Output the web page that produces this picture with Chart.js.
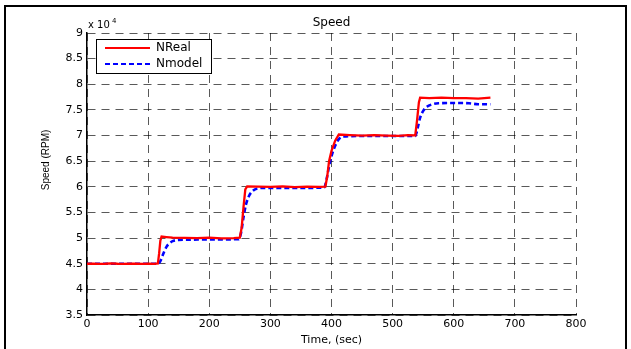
<!DOCTYPE html>
<html>
<head>
<meta charset="utf-8">
<script src="https://cdn.jsdelivr.net/npm/chart.js@4.4.1/dist/chart.umd.min.js"></script>
<style>
  html, body { margin: 0; padding: 0; background: #fff; }
  #wrap { width: 631px; height: 349px; position: relative; }
</style>
</head>
<body>
<div id="wrap"><canvas id="speed-chart"></canvas></div>
<script>
// Measured speed (NReal)
const realTime = [
  0, 10, 20, 30, 40, 50, 60, 70, 80, 90, 100, 110, 116, 118, 120, 122,
  130, 140, 160, 180, 200, 220, 240, 250, 253, 256, 259, 262,
  280, 300, 320, 340, 360, 380, 390, 393, 396, 400, 406, 412,
  430, 450, 470, 490, 510, 525, 537, 540, 543, 545,
  560, 580, 600, 620, 640, 650, 660,
];
const realRpm = [
  45000, 45020, 44980, 45000, 45050, 45000, 44990, 45020, 45000, 44980, 45000, 44990, 45050, 47000, 49500, 50300,
  50200, 50100, 50050, 50000, 50100, 49950, 50000, 50100, 52000, 56000, 59500, 60100,
  60050, 60000, 60100, 59950, 60050, 60000, 60050, 62000, 65000, 67000, 69000, 70200,
  70100, 70000, 70100, 70000, 69950, 70100, 70050, 73000, 76500, 77400,
  77300, 77400, 77300, 77300, 77200, 77300, 77400,
];

// Model speed (Nmodel)
const modelTime = [
  0, 50, 100, 116, 120, 125, 130, 135, 140, 150, 170, 200, 230, 248,
  252, 256, 260, 265, 272, 280, 290, 320, 360, 388,
  392, 396, 400, 406, 412, 420, 450, 490, 537,
  541, 545, 550, 556, 565, 575, 600, 625, 640, 660,
];
const modelRpm = [
  45000, 45000, 45000, 45000, 45500, 47000, 48300, 49000, 49400, 49650, 49700, 49750, 49750, 49800,
  51000, 54000, 56500, 58200, 59300, 59700, 59800, 59800, 59800, 59850,
  61500, 64000, 66000, 68000, 69300, 69800, 69900, 69900, 69900,
  71500, 73500, 74800, 75600, 76100, 76300, 76350, 76300, 76100, 76100,
];

const xMin = 0, xMax = 800, xStep = 100;
const yMin = 35000, yMax = 90000, yStep = 5000;

const toPoints = (xs, ys) => xs.map((x, i) => ({ x, y: ys[i] }));

// Frame, title, axis labels and legend drawn like the MATLAB figure
const figureDecor = {
  id: 'figureDecor',
  afterDraw(chart) {
    const { ctx, chartArea } = chart;
    const cx = (chartArea.left + chartArea.right) / 2;
    ctx.save();
    ctx.strokeStyle = '#000';
    ctx.lineWidth = 2;
    ctx.strokeRect(5, 6, 621, 360);

    ctx.fillStyle = '#000';
    ctx.textAlign = 'center';
    ctx.textBaseline = 'alphabetic';
    ctx.font = '12px "DejaVu Sans"';
    ctx.fillText('Speed', cx, 26);
    ctx.font = '11px "DejaVu Sans"';
    ctx.fillText('Time, (sec)', cx, 343);

    ctx.textAlign = 'left';
    ctx.font = '10px "DejaVu Sans"';
    ctx.fillText('x 10', 88, 28);
    ctx.font = '7px "DejaVu Sans"';
    ctx.fillText('4', 112, 23);

    ctx.save();
    ctx.translate(46, 160);
    ctx.rotate(-Math.PI / 2);
    ctx.textAlign = 'center';
    ctx.textBaseline = 'middle';
    ctx.font = '10px "Liberation Sans"';
    ctx.fillText('Speed (RPM)', 0, 0);
    ctx.restore();

    // legend
    ctx.fillStyle = '#fff';
    ctx.fillRect(96.5, 39.5, 115, 34);
    ctx.lineWidth = 1;
    ctx.strokeStyle = '#000';
    ctx.strokeRect(96.5, 39.5, 115, 34);

    ctx.lineWidth = 2;
    ctx.strokeStyle = '#ff0000';
    ctx.beginPath(); ctx.moveTo(105, 48); ctx.lineTo(150, 48); ctx.stroke();
    ctx.strokeStyle = '#0000ff';
    ctx.setLineDash([5, 3]);
    ctx.beginPath(); ctx.moveTo(105, 64); ctx.lineTo(150, 64); ctx.stroke();
    ctx.setLineDash([]);

    ctx.fillStyle = '#000';
    ctx.textAlign = 'left';
    ctx.textBaseline = 'middle';
    ctx.font = '12px "DejaVu Sans"';
    ctx.fillText('NReal', 156, 48);
    ctx.fillText('Nmodel', 156, 64);
    ctx.restore();
  },
};

const ctx = document.getElementById('speed-chart');
// eslint-disable-next-line no-unused-vars
const chart = new Chart(ctx, {
  type: 'line',
  data: {
    datasets: [
      {
        label: 'NReal',
        data: toPoints(realTime, realRpm),
        borderColor: '#ff0000',
        borderWidth: 2.3,
        pointRadius: 0,
        tension: 0,
      },
      {
        label: 'Nmodel',
        data: toPoints(modelTime, modelRpm),
        borderColor: '#0000ff',
        borderWidth: 2.6,
        borderDash: [5, 3],
        pointRadius: 0,
        cubicInterpolationMode: 'monotone',
      },
    ],
  },
  options: {
    responsive: true,
    maintainAspectRatio: false,
    animation: false,
    layout: {
      padding: { top: 33, right: 55, bottom: 0, left: 0 },
    },
    scales: {
      x: {
        type: 'linear',
        min: xMin,
        max: xMax,
        afterFit: (scale) => { scale.height = 34; },
        ticks: {
          stepSize: xStep,
          color: '#000',
          padding: 3,
          maxRotation: 0,
          font: { family: 'DejaVu Sans', size: 11 },
        },
        grid: {
          color: 'rgba(0,0,0,0.65)',
          lineWidth: 1,
          drawTicks: false,
        },
        border: { display: true, color: '#000', width: 1.5, dash: [8, 6] },
      },
      y: {
        min: yMin,
        max: yMax,
        afterFit: (scale) => { scale.width = 87; },
        ticks: {
          stepSize: yStep,
          color: '#000',
          padding: 4,
          font: { family: 'DejaVu Sans', size: 11 },
          callback: (value) => String(value / 1e4),
        },
        grid: {
          color: 'rgba(0,0,0,0.65)',
          lineWidth: 1,
          drawTicks: false,
        },
        border: { display: true, color: '#000', width: 1.5, dash: [8, 6] },
      },
    },
    plugins: {
      legend: { display: false },
      tooltip: { enabled: false },
    },
  },
  plugins: [figureDecor],
});
</script>
</body>
</html>
